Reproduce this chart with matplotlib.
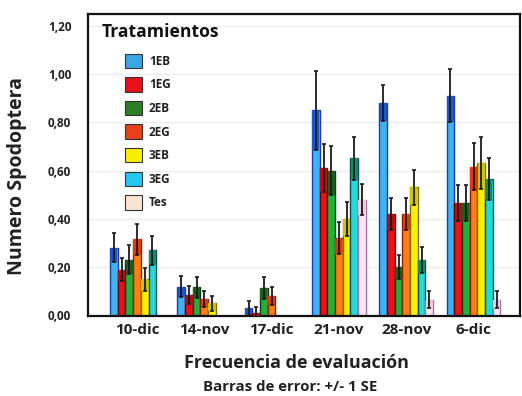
import matplotlib
matplotlib.use("Agg")
import matplotlib.pyplot as plt
from matplotlib.patches import Patch
import numpy as np

plt.rcParams['font.family'] = ['Open Sans', 'DejaVu Sans']

fechas = ["10-dic", "14-nov", "17-dic", "21-nov", "28-nov", "6-dic"]
tratamientos = ["1EB", "1EG", "2EB", "2EG", "3EB", "3EG", "Tes"]

# mean number of Spodoptera per treatment, one value per evaluation date
media = {
    "1EB": [0.28, 0.12, 0.03, 0.85, 0.88, 0.91],
    "1EG": [0.19, 0.085, 0.01, 0.61, 0.42, 0.465],
    "2EB": [0.23, 0.117, 0.115, 0.60, 0.20, 0.465],
    "2EG": [0.315, 0.068, 0.082, 0.32, 0.42, 0.615],
    "3EB": [0.15, 0.05, 0.0, 0.40, 0.53, 0.63],
    "3EG": [0.27, 0.0, 0.0, 0.65, 0.23, 0.565],
    "Tes": [0.0, 0.0, 0.0, 0.48, 0.065, 0.065],
}
# standard error of each mean
error = {
    "1EB": [0.06, 0.042, 0.028, 0.163, 0.073, 0.11],
    "1EG": [0.047, 0.037, 0.025, 0.10, 0.065, 0.075],
    "2EB": [0.06, 0.044, 0.045, 0.10, 0.05, 0.075],
    "2EG": [0.063, 0.033, 0.037, 0.065, 0.068, 0.097],
    "3EB": [0.047, 0.032, 0.0, 0.071, 0.073, 0.107],
    "3EG": [0.06, 0.0, 0.0, 0.088, 0.054, 0.086],
    "Tes": [0.0, 0.0, 0.0, 0.065, 0.035, 0.035],
}

# (light body, dark upper band, outline, legend swatch)
estilos = {
    "1EB": ("#3fb2f0", "#1f55cc", "#1a3cb0", "#3aa6e6"),
    "1EG": ("#ec1018", "#b80c10", "#6e0000", "#e8101a"),
    "2EB": ("#22b038", "#1d5e1d", "#0e3a0e", "#2e7e26"),
    "2EG": ("#ff7d12", "#e2380c", "#8a2000", "#e8401a"),
    "3EB": ("#fbf000", "#cfc400", "#7a7000", "#f6f000"),
    "3EG": ("#22dada", "#148a6a", "#0a5048", "#20c8f2"),
    "Tes": ("#fbe6ee", "#f0c8dc", "#b070b0", "#f8e4d0"),
}

W, H = 522, 396
fig = plt.figure(figsize=(W / 100, H / 100), dpi=100)
ax = fig.add_axes([88 / W, 1 - 315.5 / H, 432 / W, 301.5 / H])

x = np.arange(len(fechas))
n = len(tratamientos)
w = 0.8 / n

for j, t in enumerate(tratamientos):
    xs = x + (j - (n - 1) / 2) * w
    v = np.array(media[t])
    e = np.array(error[t])
    body, band, edge, _ = estilos[t]
    mask = v > 0
    ax.bar(xs[mask], v[mask], width=w, color=body, edgecolor=edge,
           linewidth=1.0, zorder=2)
    low = np.clip(v - e, 0, None)
    ax.bar(xs[mask], (v - low)[mask], bottom=low[mask], width=w * 0.92,
           color=band, edgecolor='none', zorder=3)
    ax.errorbar(xs[mask], v[mask], yerr=e[mask], fmt='none', ecolor='#1a1a1a',
                elinewidth=1.3, capsize=1.5, capthick=1.2, zorder=4)

ax.set_xlim(-0.728, 5.69)
ax.set_ylim(0, 1.248)
ticks = [0, 0.2, 0.4, 0.6, 0.8, 1.0, 1.2]
ax.set_yticks(ticks)
ax.set_yticklabels([f"{t:.2f}".replace(".", ",") for t in ticks],
                   fontsize=8.5, fontweight='bold', color='#222222')
ax.set_xticks(x)
ax.set_xticklabels(fechas, fontsize=11, fontweight='bold', color='#222222')
ax.tick_params(axis='x', length=0, pad=5.5)
ax.tick_params(axis='y', length=0, pad=12)
ax.yaxis.grid(True, color='#ececec', linewidth=1.0, zorder=0)
ax.set_axisbelow(True)
for s in ax.spines.values():
    s.set_linewidth(1.6)
    s.set_color('#111111')

fig.text(17 / W, 1 - 176 / H, "Numero Spodoptera", rotation=90, ha='center',
         va='center', fontsize=14, fontweight='bold', color='#222222')
fig.text(296 / W, 1 - 363 / H, "Frecuencia de evaluación", ha='center',
         va='center', fontsize=13, fontweight='bold', color='#222222')
fig.text(290 / W, 1 - 387 / H, "Barras de error: +/- 1 SE", ha='center',
         va='center', fontsize=10.8, fontweight='bold', color='#222222')

ax.text((102 - 88) / 432, (315.5 - 32) / 301.5, "Tratamientos",
        transform=ax.transAxes, ha='left', va='center', fontsize=12.6,
        fontweight='bold', color='#111111')
handles = [Patch(facecolor=estilos[t][3], edgecolor='#333333', linewidth=0.8)
           for t in tratamientos]
leg = ax.legend(handles, tratamientos, loc='upper left',
                bbox_to_anchor=((114 - 88) / 432, (315.5 - 43) / 301.5),
                frameon=False, fontsize=8.5, handlelength=1.5,
                handleheight=1.5, labelspacing=0.78, handletextpad=0.55)
for txt in leg.get_texts():
    txt.set_fontweight('bold')
    txt.set_color('#222222')

fig.savefig("out.png", dpi=100)
